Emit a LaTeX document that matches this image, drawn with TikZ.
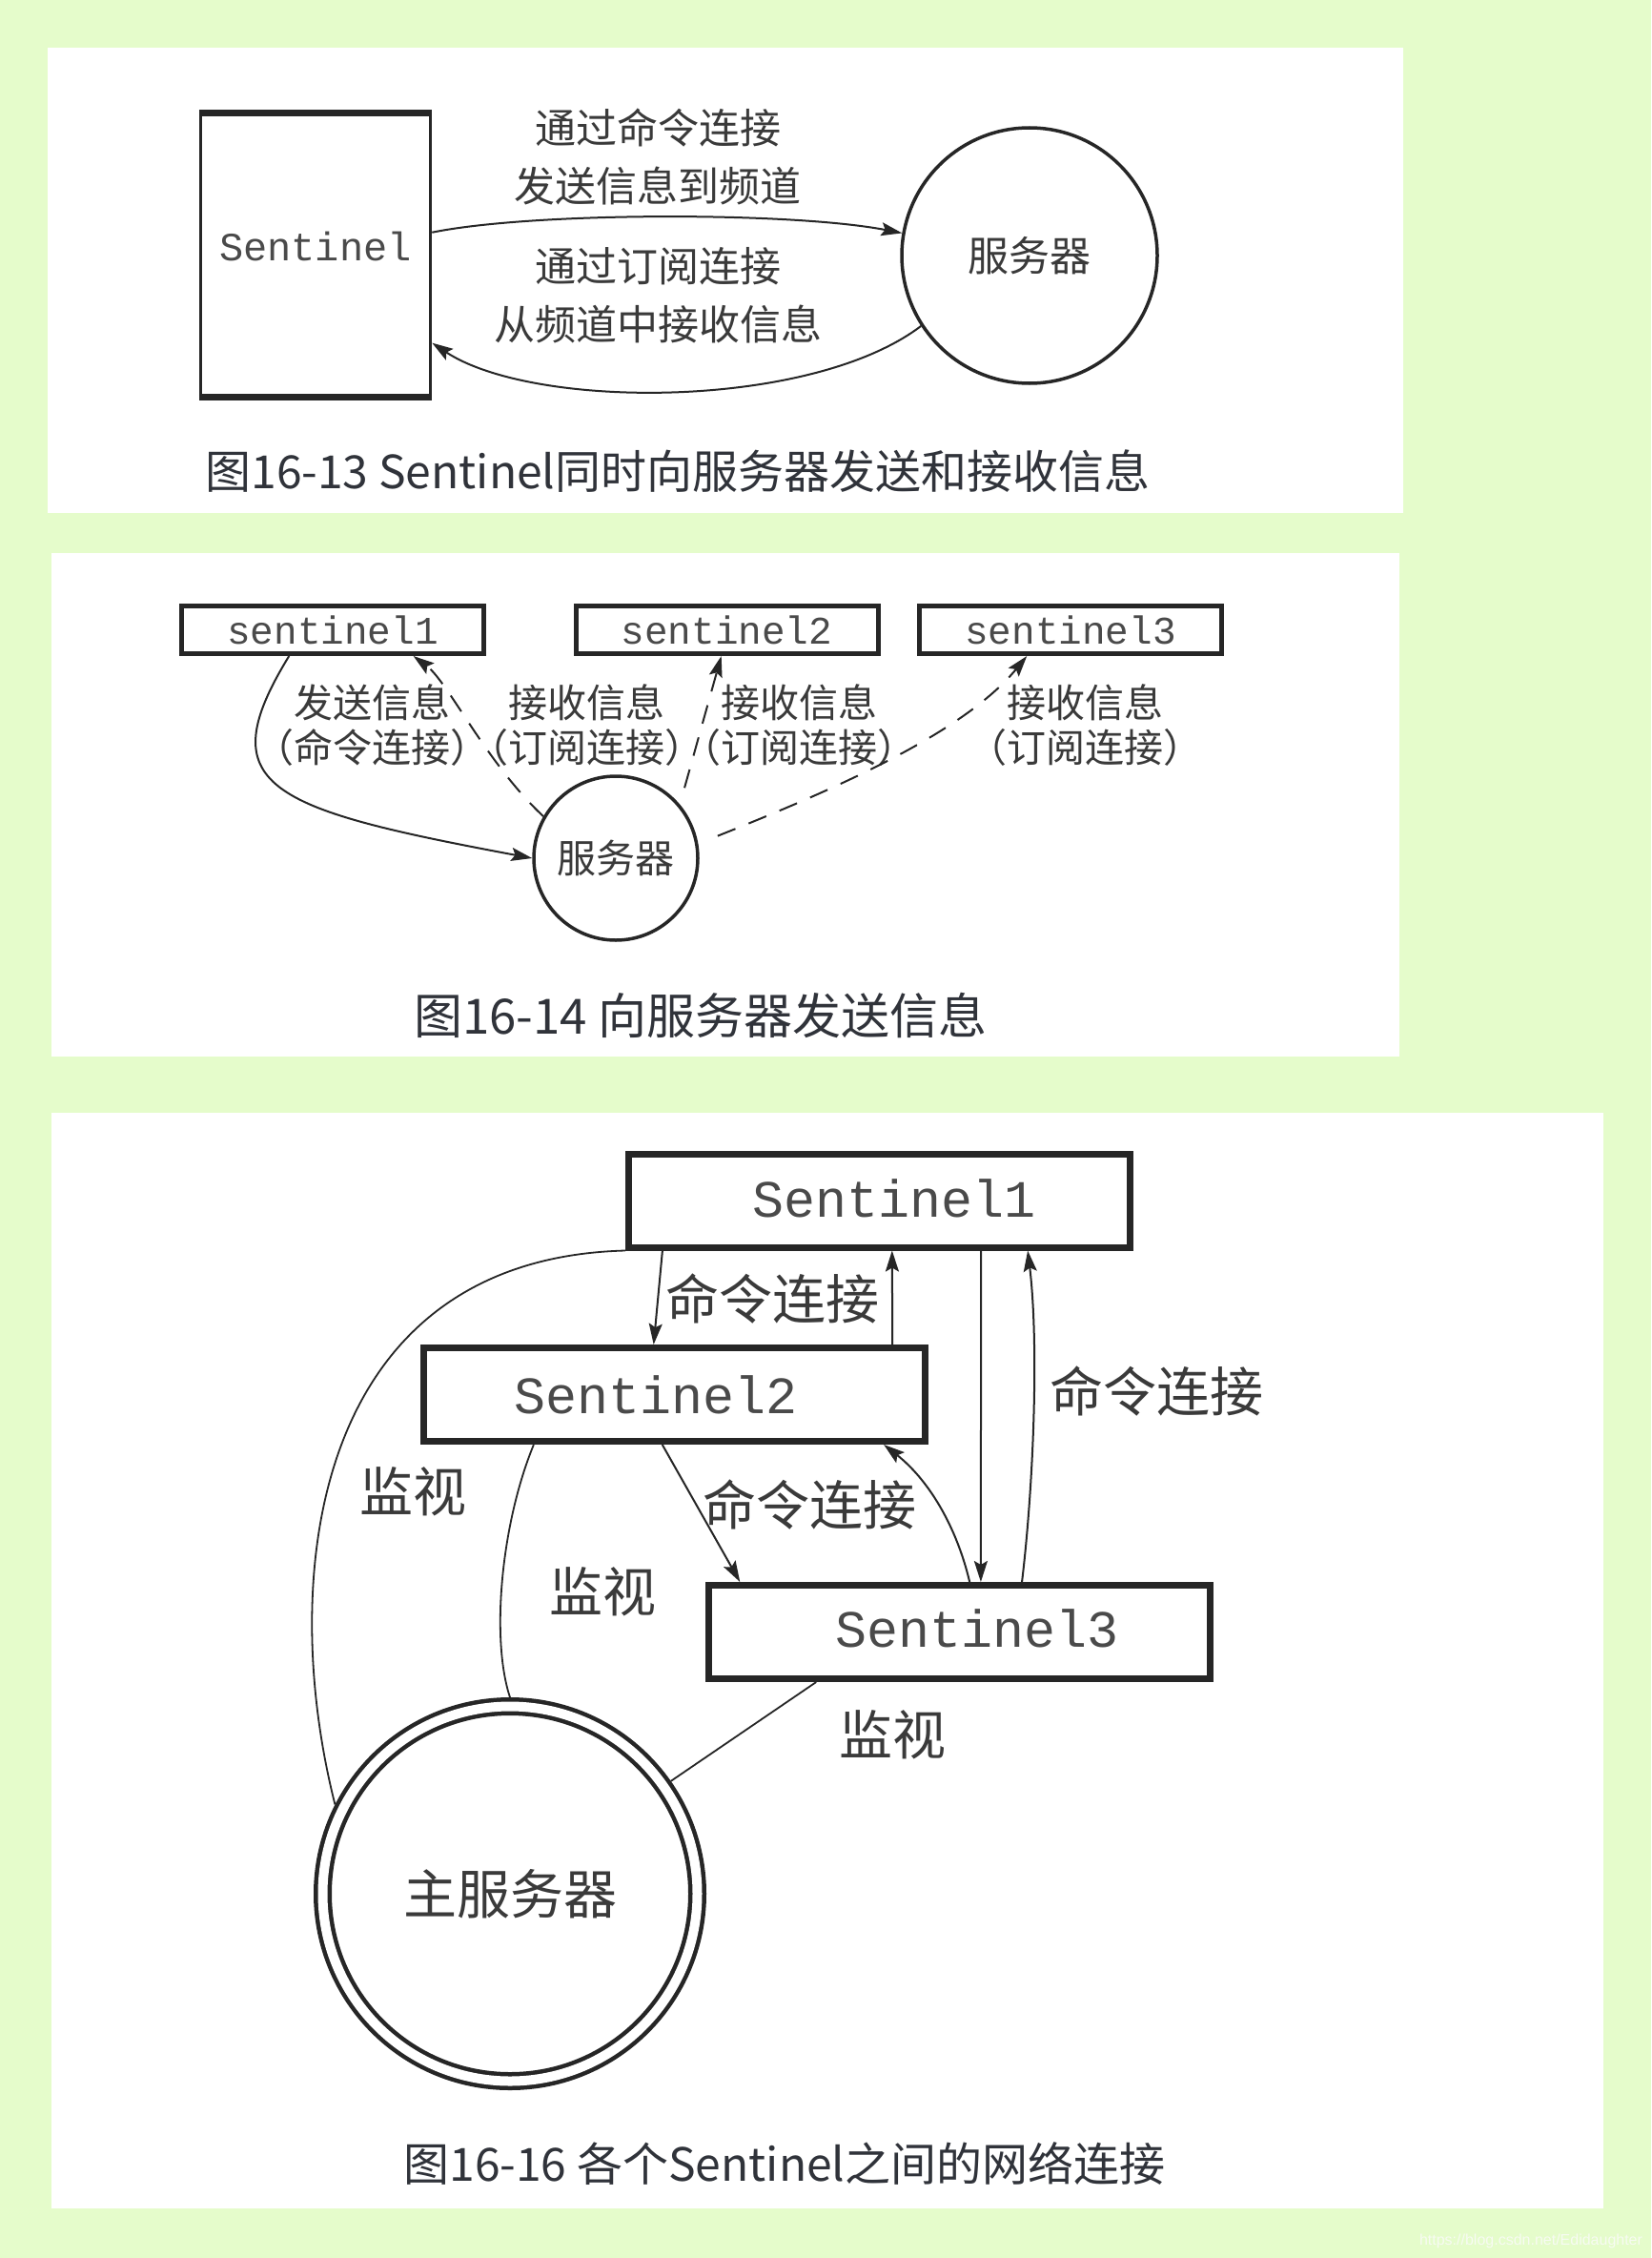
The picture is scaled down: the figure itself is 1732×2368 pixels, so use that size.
\documentclass[tikz,border=0pt]{standalone}
\usepackage{fontspec}
\newfontfamily\cjk{Noto Sans CJK SC}
\newfontfamily\monof{Liberation Mono}
\newfontfamily\wmf{Liberation Sans}
\usetikzlibrary{arrows.meta,calc}
\definecolor{bg}{HTML}{E5FCCB}
\definecolor{ink}{HTML}{262626}
\definecolor{labc}{HTML}{3A3A3A}
\definecolor{monoc}{HTML}{4A4A4A}
\definecolor{capc}{HTML}{30333A}
\definecolor{wmc}{HTML}{F7FBF2}
\begin{document}
\begin{tikzpicture}[x=1pt,y=-1pt,
  arr/.style={draw=ink, line width=2pt, -{Stealth[length=22pt,width=14pt,inset=4pt]}},
  thinline/.style={draw=ink, line width=1.8pt},
  dashline/.style={dash pattern=on 20pt off 15pt},
  lab1/.style={font={\cjk\fontsize{43}{61}\selectfont}, text=labc, align=center, inner sep=0pt},
  lab2/.style={font={\cjk\fontsize{41}{47}\selectfont}, text=labc, align=center, inner sep=0pt},
  lab3/.style={font={\cjk\fontsize{56}{60}\selectfont}, text=labc, inner sep=0pt},
  captext/.style={font={\cjk\fontsize{48}{56}\selectfont}, text=capc, inner sep=0pt},
  mono1/.style={font={\monof\fontsize{42}{48}\selectfont}, text=monoc, inner sep=0pt},
  mono2/.style={font={\monof\fontsize{41}{46}\selectfont}, text=monoc},
  mono3/.style={font={\monof\fontsize{55}{60}\selectfont}, text=monoc, inner sep=0pt},
  box2/.style={draw=ink, line width=5pt, minimum width=317pt, minimum height=50pt, inner sep=0pt, mono2},
  box3/.style={draw=ink, line width=7pt, minimum width=526pt, minimum height=98pt, inner sep=0pt},
]
\fill[bg] (0,0) rectangle (1732,2368);
\useasboundingbox (0,0) rectangle (1732,2368);
% panels
\fill[white] (50,50) rectangle (1472,538);
\fill[white] (54,580) rectangle (1468,1108);
\fill[white] (54,1167) rectangle (1682,2316);

% ---------- panel 1 ----------
\node[draw=ink, line width=3.5pt, minimum width=241pt, minimum height=295pt, inner sep=0pt, label={[mono1, yshift=9pt]center:Sentinel}] (p1s) at (331,267.5) {};
\draw[ink, line width=6pt] (p1s.north west) -- (p1s.north east);
\draw[ink, line width=6pt] (p1s.south west) -- (p1s.south east);
\node[circle, draw=ink, line width=3.5pt, minimum size=268pt, inner sep=0pt, lab1] (p1c) at (1080,268) {服务器};
\node[lab1] (t1) at (690,164) {通过命令连接\\发送信息到频道};
\node[lab1] (t2) at (690,310) {通过订阅连接\\从频道中接收信息};
\draw[arr] (p1s.11) .. controls (560,222) and (830,222) .. (p1c.170);
\draw[arr] (p1c.213) .. controls (850,430) and (560,430) .. (p1s.-37.5);
\node[captext] (c1) at (711,494) {图16-13 Sentinel同时向服务器发送和接收信息};

% ---------- panel 2 ----------
\node[box2] (s1) at (349,660.5) {sentinel1};
\node[box2] (s2) at (762.5,660.5) {sentinel2};
\node[box2] (s3) at (1123,660.5) {sentinel3};
\node[circle, draw=ink, line width=3.5pt, minimum size=172pt, inner sep=0pt, lab2] (srv) at (646,900) {服务器};
\node[lab2] (l1) at (390,761) {发送信息\\（命令连接）};
\node[lab2] (l2) at (615,761) {接收信息\\（订阅连接）};
\node[lab2] (l3) at (838,761) {接收信息\\（订阅连接）};
\node[lab2] (l4) at (1138,761) {接收信息\\（订阅连接）};
\draw[arr] (s1.-149) .. controls (219.5,824.5) and (280,848) .. (srv.west);
\draw[arr, dashline] (srv.150) .. controls (510,800) and (470,715) .. (s1.-18);
\draw[arr, dashline, shorten <=18pt] (srv.40) -- (s2.-102);
\draw[arr, dashline, shorten <=22pt] (srv.10) .. controls (870,830) and (1010,770) .. (s3.-149);
\node[captext, font={\cjk\fontsize{51}{56}\selectfont}] (c2) at (735,1065) {图16-14 向服务器发送信息};

% ---------- panel 3 ----------
\node[box3, label={[mono3, xshift=15.5pt, yshift=2pt]center:Sentinel1}] (S1) at (922.5,1259) {};
\node[box3, label={[mono3, xshift=-19pt]center:Sentinel2}] (S2) at (707,1462.5) {};
\node[box3, label={[mono3, xshift=18.5pt, yshift=3.5pt]center:Sentinel3}] (S3) at (1006.5,1711.5) {};
\node[circle, draw=ink, double=white, double distance=10pt, line width=4.5pt, minimum size=393pt, inner sep=0pt, outer sep=9.5pt, lab3] (M) at (535,1986) {主服务器};

\draw[arr] ($(S1.south west)!0.073!(S1.south east)$) -- ($(S2.north west)!0.46!(S2.north east)$);
\draw[arr] ($(S2.north west)!0.93!(S2.north east)$) -- ($(S1.south west)!0.525!(S1.south east)$);
\draw[arr] ($(S2.south west)!0.477!(S2.south east)$) -- ($(S3.north west)!0.068!(S3.north east)$);
\draw[arr] ($(S3.north west)!0.52!(S3.north east)$) .. controls (1003,1599) and (973,1551) .. ($(S2.south west)!0.913!(S2.south east)$);
\draw[arr] ($(S1.south west)!0.70!(S1.south east)$) -- ($(S3.north west)!0.542!(S3.north east)$);
\draw[arr] ($(S3.north west)!0.623!(S3.north east)$) .. controls +(12,-100) and +(12,100) .. ($(S1.south west)!0.792!(S1.south east)$);

\draw[thinline] (S1.south west) .. controls (330,1320) and (290,1650) .. (M.153);
\draw[thinline] ($(S2.south west)!0.224!(S2.south east)$) .. controls (525,1600) and (515,1720) .. (M.north);
\draw[thinline] ($(S3.south west)!0.218!(S3.south east)$) -- (M.35);

\node[lab3] (k1) at (810,1362) {命令连接};
\node[lab3] (k2) at (849,1578) {命令连接};
\node[lab3] (k3) at (1213,1459) {命令连接};
\node[lab3] (j1) at (433,1564) {监视};
\node[lab3] (j2) at (632,1669) {监视};
\node[lab3] (j3) at (936,1819) {监视};
\node[captext] (c3) at (823,2269) {图16-16 各个Sentinel之间的网络连接};

\node[font={\wmf\fontsize{16}{18}\selectfont}, text=wmc, inner sep=0pt] (wm) at (1606,2350) {https://blog.csdn.net/Edidaughter};
\end{tikzpicture}
\end{document}
